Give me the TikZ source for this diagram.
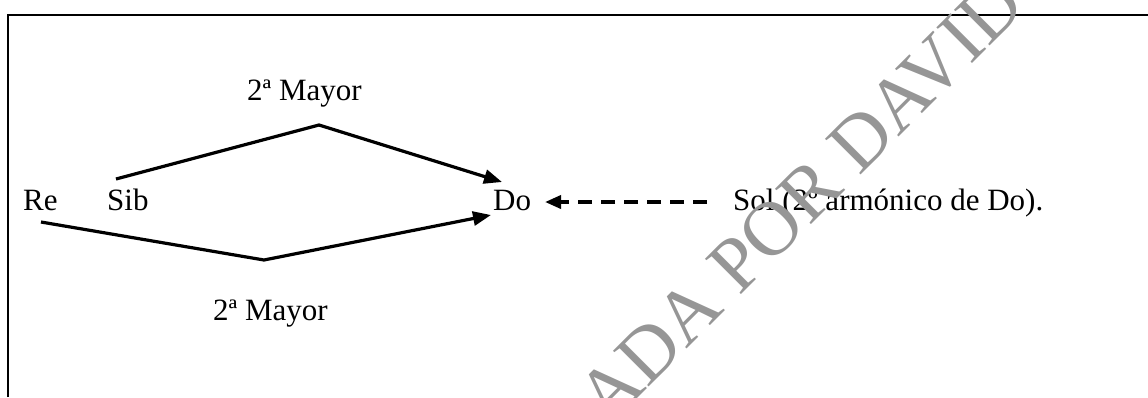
\documentclass[tikz,border=0pt]{standalone}
\usepackage{fontspec}
\setmainfont{Liberation Serif}
\usetikzlibrary{arrows.meta}
\definecolor{wm}{RGB}{150,150,150}
\begin{document}
\begin{tikzpicture}[x=1pt,y=-1pt,
  lbl/.style={anchor=base west, inner sep=0pt, font=\fontsize{31}{37}\selectfont},
  conn/.style={line width=3.2pt, -{Triangle[length=18pt,width=14pt]}},
  dconn/.style={line width=3.6pt, dash pattern=on 14pt off 9pt, -{Triangle[length=16pt,width=13pt]}},
  frame/.style={line width=2.2pt}]
\useasboundingbox (0,0) rectangle (1148,397);
\draw[frame] (8,397) -- (8,15) -- (1148,15);
\node[lbl] (re) at (23,210) {Re};
\node[lbl] (sib) at (107,210) {Sib};
\node[lbl] (do) at (493,210) {Do};
\node[lbl] (sol) at (733,210) {Sol (2º armónico de Do).};
\node[lbl] (mtop) at (247,100) {2ª Mayor};
\node[lbl] (mbot) at (213,320) {2ª Mayor};
\coordinate (ustart) at (116,179);
\coordinate (utop) at (319,125);
\coordinate (uend) at (502,182);
\coordinate (lstart) at (41,222);
\coordinate (lbot) at (264,260);
\coordinate (lend) at (491,215);
\coordinate (dstart) at (707,202);
\coordinate (dend) at (545,202);
\draw[conn] (ustart) -- (utop) -- (uend);
\draw[conn] (lstart) -- (lbot) -- (lend);
\draw[dconn] (dstart) -- (dend);
\begin{scope}
\clip (0,0) rectangle (1148,397);
\node[anchor=base west, inner sep=0pt, rotate=45, text=wm, font=\fontsize{77}{85}\selectfont] (wmk) at (608,428) {ADA POR DAVID};
\end{scope}
\end{tikzpicture}
\end{document}
